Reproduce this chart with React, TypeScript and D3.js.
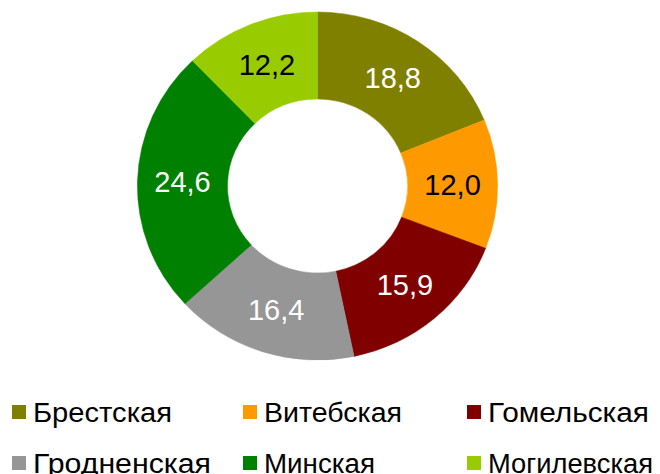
import React from "react";
import * as d3 from "d3";

const categories = ["Брестская", "Витебская", "Гомельская", "Гродненская", "Минская", "Могилевская"];
const values = [18.8, 12.0, 15.9, 16.4, 24.6, 12.2];
const valueLabels = ["18,8", "12,0", "15,9", "16,4", "24,6", "12,2"];
const colors = ["#808000", "#FF9900", "#800000", "#969696", "#008000", "#99CC00"];
const labelColors = ["#ffffff", "#000000", "#ffffff", "#ffffff", "#ffffff", "#000000"];
const legendTextWidths = [139, 138, 161, 178, 111, 165];

const W = 660;
const H = 474;
const cx = 317.5;
const cy = 186;
const R = 174;
const r = 87;
const sx = 1.035;

export default function App() {
  const pie = d3.pie<number>().sort(null).value((d) => d);
  const arcs = pie(values);
  const arc = d3.arc<d3.PieArcDatum<number>>().innerRadius(r).outerRadius(R);
  const legendX = [12, 243, 467];
  const legendY = [412, 463];
  return (
    <svg width={W} height={H} style={{ position: "absolute", left: 0, top: 0 }}
      fontFamily="'Liberation Sans', Arial, sans-serif">
      <rect width={W} height={H} fill="#ffffff" />
      <g transform={`translate(${cx},${cy}) scale(${sx},1)`}>
        {arcs.map((a, i) => (
          <path key={i} d={arc(a) || ""} fill={colors[i]} stroke={colors[i]} strokeWidth={0.5} />
        ))}
      </g>
      {arcs.map((a, i) => {
        const [x, y] = arc.centroid(a);
        return (
          <text key={i} x={cx + x * sx} y={cy + y} textAnchor="middle" dominantBaseline="central"
            fontSize={29} fill={labelColors[i]}>
            {valueLabels[i]}
          </text>
        );
      })}
      {categories.map((c, i) => {
        const col = i % 3;
        const row = Math.floor(i / 3);
        const x = legendX[col];
        const y = legendY[row];
        return (
          <g key={c}>
            <rect x={x} y={y - 7} width={14} height={14} fill={colors[i]} />
            <text x={x + 21} y={y + 10} fontSize={27} fill="#000000"
              textLength={legendTextWidths[i]} lengthAdjust="spacingAndGlyphs">{c}</text>
          </g>
        );
      })}
    </svg>
  );
}
